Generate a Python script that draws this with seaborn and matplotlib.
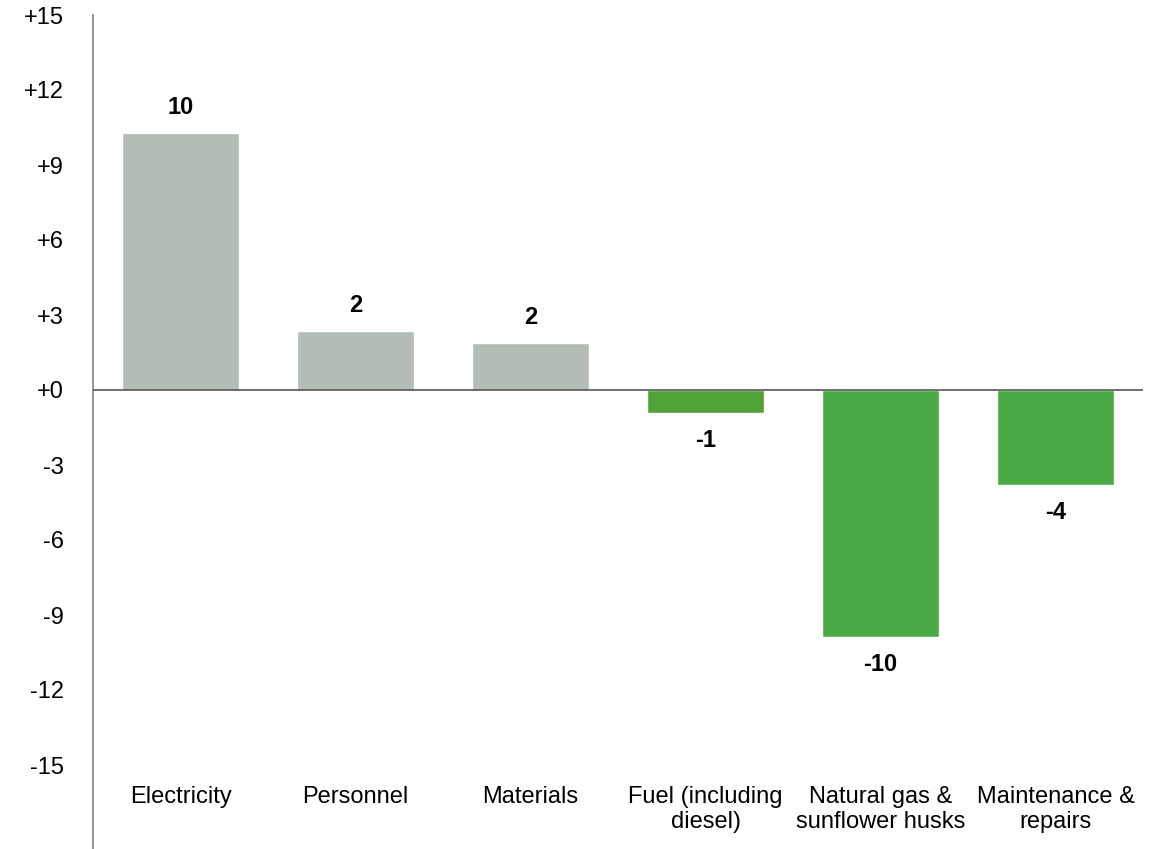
import matplotlib
matplotlib.use("Agg")
import matplotlib.pyplot as plt
import seaborn as sns
import pandas as pd

categories = ["Electricity", "Personnel", "Materials", "Fuel (including\ndiesel)",
              "Natural gas &\nsunflower husks", "Maintenance &\nrepairs"]
values = [10.28, 2.36, 1.88, -0.92, -9.88, -3.8]
labels = ["10", "2", "2", "-1", "-10", "-4"]
colors = ["#b4bdb5", "#b4bdb5", "#b4bdb5", "#4ea334", "#4aaa46", "#4aaa46"]
yticks = [15, 12, 9, 6, 3, 0, -3, -6, -9, -12, -15]

sns.set_theme(style="white")
plt.rcParams["font.family"] = ["Liberation Sans", "DejaVu Sans"]
plt.rcParams["text.color"] = "black"

df = pd.DataFrame({"category": categories, "value": values})

fig = plt.figure(figsize=(11.53, 8.49), dpi=100)
ax = fig.add_axes([93 / 1153, 0, 1050 / 1153, 834 / 849])

sns.barplot(data=df, x="category", y="value", hue="category", palette=colors,
            legend=False, width=0.67, saturation=1, ax=ax)

ax.set_xlim(-0.5, 5.5)
ax.set_ylim(-18.36, 15)
ax.axhline(0, color="#555555", lw=1.2, zorder=3)

for s in ["top", "right", "bottom"]:
    ax.spines[s].set_visible(False)
ax.spines["left"].set_color("#808080")
ax.spines["left"].set_linewidth(1.2)

ax.set_yticks(yticks)
ax.set_yticklabels([f"+{t}" if t >= 0 else f"{t}" for t in yticks], fontsize=17, color="black")
ax.tick_params(axis="y", length=0, pad=21)
ax.set_xticks([])
ax.set_xlabel("")
ax.set_ylabel("")

for i, (v, lab) in enumerate(zip(values, labels)):
    off = 18 if v >= 0 else -20
    ax.annotate(lab, (i, v), xytext=(0, off), textcoords="offset points",
                ha="center", va="center", fontsize=17, fontweight="bold", color="black")

for i, cat in enumerate(categories):
    ax.text(i, -15.84, cat, ha="center", va="top", fontsize=17, linespacing=1.17, color="black")

fig.savefig("out.png", dpi=100)
